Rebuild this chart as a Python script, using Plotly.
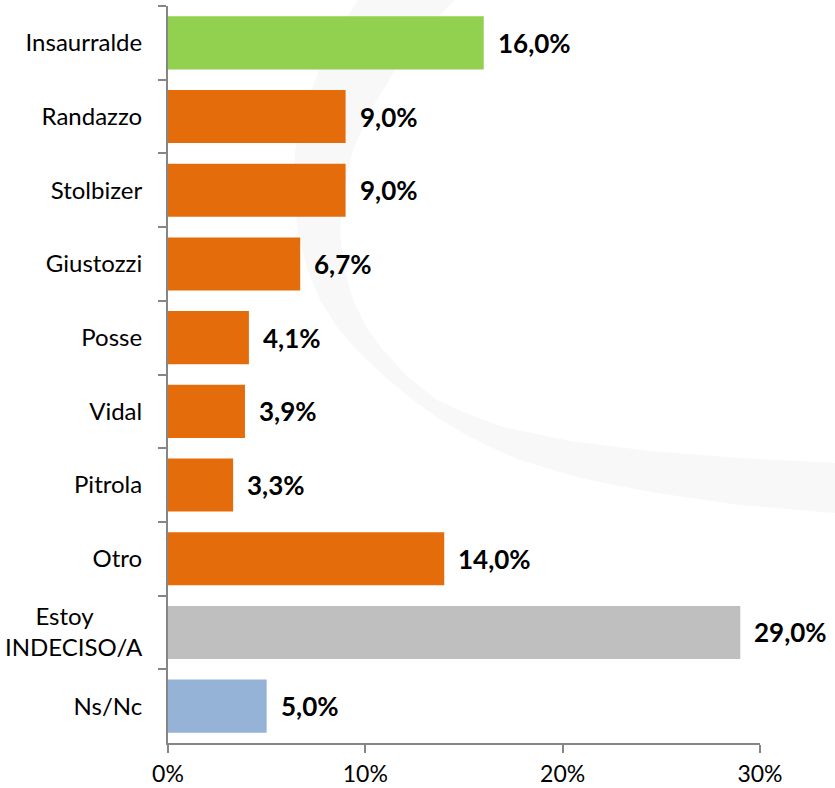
import plotly.graph_objects as go

categories = ["Insaurralde", "Randazzo", "Stolbizer", "Giustozzi", "Posse", "Vidal",
              "Pitrola", "Otro", "Estoy\u00a0\u00a0\u00a0\u00a0\u00a0\u00a0\u00a0\u00a0<br>INDECISO/A", "Ns/Nc"]
values = [16.0, 9.0, 9.0, 6.7, 4.1, 3.9, 3.3, 14.0, 29.0, 5.0]
colors = ["#92D050", "#E46C0A", "#E46C0A", "#E46C0A", "#E46C0A", "#E46C0A",
          "#E46C0A", "#E46C0A", "#BFBFBF", "#95B3D7"]
tick_vals = [0, 10, 20, 30]
tick_text = ["0%", "10%", "20%", "30%"]

FONT = "Lato"
W, H = 835, 788
ML, MR, MT, MB = 168, 75, 6, 45
PW, PH = W - ML - MR, H - MT - MB

fig = go.Figure()
fig.add_trace(go.Bar(
    y=categories, x=values, orientation="h",
    marker=dict(color=colors, line=dict(width=0)),
    hoverinfo="skip",
))

for c, v in zip(categories, values):
    fig.add_annotation(x=v, y=c, xref="x", yref="y", text="<b>%s%%</b>" % ("%.1f" % v).replace(".", ","),
                       showarrow=False, xanchor="left", xshift=12,
                       font=dict(family=FONT, size=26, color="#000000"))

# faint decorative watermark arc
def to_paper(px, py):
    return (px - ML) / PW, (H - MB - py) / PH

outer = [(358, -5), (358, 0), (337, 33), (320, 67), (305, 108), (295, 150), (293, 192), (298, 233),
         (307, 268), (320, 300), (337, 327), (357, 350), (385, 377), (413, 400), (438, 418),
         (463, 433), (490, 447), (520, 460), (580, 478), (650, 492), (740, 505), (835, 513), (850, 514)]
inner = [(455, -5), (455, 0), (424, 32), (397, 67), (372, 108), (353, 150), (343, 192), (340, 233),
         (344, 268), (353, 300), (366, 327), (383, 350), (408, 377), (437, 400), (468, 414),
         (503, 427), (570, 441), (650, 451), (740, 458), (835, 463), (850, 463)]
pts = outer + inner[::-1]
path = ""
for i, (px, py) in enumerate(pts):
    xp, yp = to_paper(px, py)
    path += ("M" if i == 0 else "L") + "%.4f,%.4f " % (xp, yp)
path += "Z"
fig.add_shape(type="path", path=path, xref="paper", yref="paper",
              fillcolor="#F8F8F8", line=dict(width=0), layer="below")

fig.update_layout(
    width=W, height=H,
    margin=dict(l=ML, r=MR, t=MT, b=MB, pad=0, autoexpand=False),
    paper_bgcolor="white", plot_bgcolor="rgba(0,0,0,0)",
    separators=",.",
    bargap=0.28,
    showlegend=False,
    font=dict(family=FONT, size=24, color="#000000"),
    xaxis=dict(range=[0, 30], tickvals=tick_vals, ticktext=tick_text,
               showgrid=False, zeroline=False, showline=True, linecolor="#868686", linewidth=2,
               ticks="outside", ticklen=8, tickwidth=2, tickcolor="#868686",
               ticklabelstandoff=1,
               tickfont=dict(family=FONT, size=23, color="#000000"), fixedrange=True),
    yaxis=dict(autorange="reversed", showgrid=False, zeroline=False,
               showline=True, linecolor="#868686", linewidth=2,
               ticks="outside", tickson="boundaries", ticklen=8, tickwidth=2, tickcolor="#868686",
               ticklabelstandoff=19,
               tickfont=dict(family=FONT, size=24, color="#000000"), fixedrange=True),
)

fig.write_html("out.html", config={"displayModeBar": False},
               post_script="document.body.style.margin='0';document.body.style.padding='0';")
